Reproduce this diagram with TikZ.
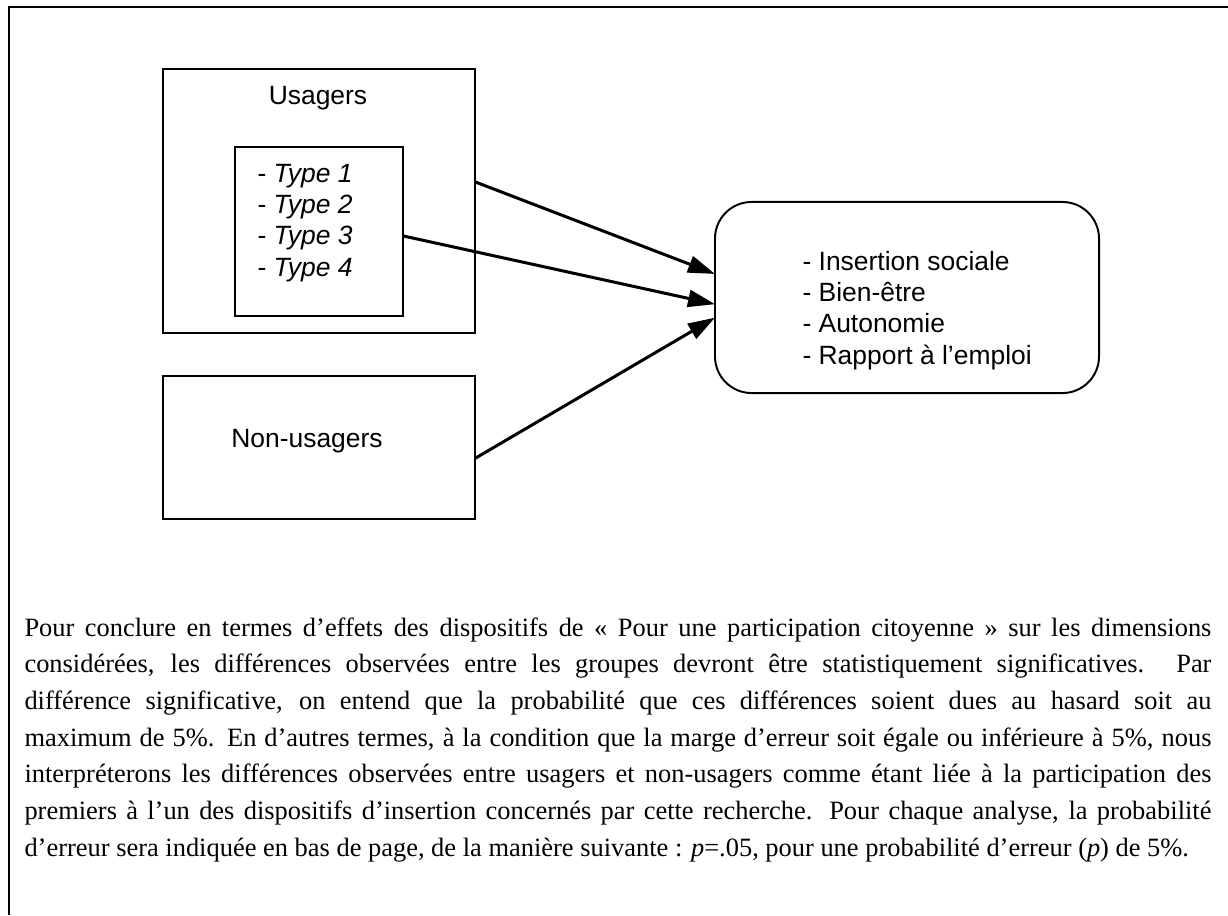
\documentclass[tikz,border=0pt]{standalone}
\usepackage{fontspec}
\setmainfont{Liberation Serif}
\setsansfont{Liberation Sans}
\usetikzlibrary{arrows.meta}

\begin{document}
\begin{tikzpicture}[x=0.382pt, y=-0.382pt,
  boite/.style={draw, line width=0.75pt, inner sep=0pt, outer sep=0pt},
  texte/.style={font=\sffamily\fontsize{10.1}{11.85}\selectfont, inner sep=0pt},
  fleche/.style={-{Triangle[length=10.3pt, width=6.5pt]}, line width=1.15pt}]

\useasboundingbox (0,0) rectangle (1228,915);

% Cadre
\draw[line width=0.9pt] (9,915) -- (9,7) -- (1228,7);

% Usagers
\node[boite, minimum width=119.2pt, minimum height=100.9pt] (usagers) at (319,201) {};
\node[texte, anchor=base] (titreusagers) at (318,104) {Usagers};
\node[boite, minimum width=64.2pt, minimum height=64.6pt] (types) at (319,231.5) {};
\node[texte, anchor=base west, align=left] (listetypes) at (257,276)
  {- \textit{Type 1}\\ - \textit{Type 2}\\ - \textit{Type 3}\\ - \textit{Type 4}};

% Non-usagers
\node[boite, minimum width=119.2pt, minimum height=54.6pt] (nonusagers) at (319,447.5) {};
\node[texte, anchor=base] (titrenon) at (307,447) {Non-usagers};

% Dimensions mesurees
\node[boite, rounded corners=14pt, minimum width=146.7pt, minimum height=73pt] (dimensions) at (907,297.5) {};
\node[texte, anchor=base west, align=left] (listedim) at (802,364)
  {- Insertion sociale\\ - Bien-être\\ - Autonomie\\ - Rapport à l’emploi};

% Fleches
\draw[fleche] (usagers.7.3) -- (dimensions.173.9);
\draw[fleche] (types.-3.4) -- (dimensions.182.8);
\draw[fleche] (nonusagers.-4) -- (dimensions.186.1);

% Paragraphe
\node[anchor=base west, text width=453.4pt, align=justify, inner sep=0pt,
  font=\fontsize{10.1}{14.02}\selectfont] (para) at (24,636)
  {\hyphenpenalty=10000 \exhyphenpenalty=10000 \emergencystretch=2em
  Pour conclure en termes d’effets des dispositifs de «~Pour une participation citoyenne~» sur les dimensions\linebreak
  considérées, les différences observées entre les groupes devront être statistiquement significatives. Par\linebreak
  différence significative, on entend que la probabilité que ces différences soient dues au hasard soit au\linebreak
  maximum de 5\%. En d’autres termes, à la condition que la marge d’erreur soit égale ou inférieure à 5\%, nous\linebreak
  interpréterons les différences observées entre usagers et non-usagers comme étant liée à la participation des\linebreak
  premiers à l’un des dispositifs d’insertion concernés par cette recherche. Pour chaque analyse, la probabilité\linebreak
  d’erreur sera indiquée en bas de page, de la manière suivante~: \textit{p}=.05, pour une probabilité d’erreur (\textit{p}) de 5\%.};

\end{tikzpicture}
\end{document}
